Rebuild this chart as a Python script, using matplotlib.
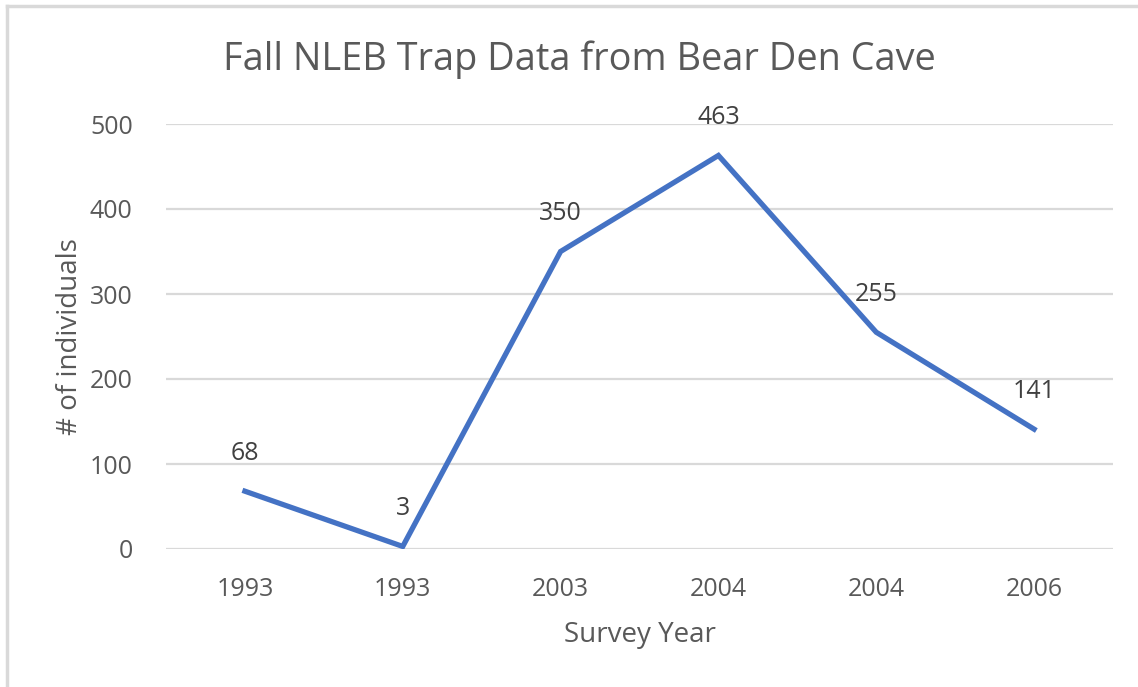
import matplotlib.pyplot as plt
import numpy as np
from matplotlib.lines import Line2D

years = ["1993", "1993", "2003", "2004", "2004", "2006"]
counts = [68, 3, 350, 463, 255, 141]

plt.rcParams['font.family'] = ['Open Sans', 'DejaVu Sans']
grey = '#595959'

fig = plt.figure(figsize=(11.38, 6.87), dpi=100)
ax = fig.add_axes([166/1138, 1 - 549/687, (1113-166)/1138, (549-124)/687])

x = np.arange(len(years))
ax.plot(x, counts, color='#4472C4', lw=3.8, solid_joinstyle='miter', zorder=3)
for xi, v in zip(x, counts):
    ax.annotate(str(v), (xi, v), xytext=(0, 27), textcoords='offset points',
                ha='center', va='center', fontsize=18, color='#404040')

ax.set_xlim(-0.5, 5.5)
ax.set_ylim(0, 500)
ax.set_yticks(range(0, 501, 100))
ax.set_xticks(x, years)
ax.grid(axis='y', color='#d9d9d9', lw=1.6)
ax.set_axisbelow(True)
for s in ax.spines.values():
    s.set_visible(False)
ax.tick_params(length=0, labelsize=18, labelcolor=grey, pad=20)
ax.tick_params(axis='y', pad=24)

ax.set_xlabel('Survey Year', fontsize=20, color=grey, labelpad=14)
ax.set_ylabel('# of individuals', fontsize=20, color=grey, labelpad=4)
fig.text(579/1138, 1 - 60/687, 'Fall NLEB Trap Data from Bear Den Cave',
         ha='center', va='center', fontsize=27.3, color=grey)

# light frame on top and left edges
fig.add_artist(Line2D([7/1138, 1], [1 - 6/687, 1 - 6/687], color='#d9d9d9', lw=2.5))
fig.add_artist(Line2D([7/1138, 7/1138], [0, 1 - 6/687], color='#d9d9d9', lw=2.5))

plt.savefig('out.png', dpi=100)
